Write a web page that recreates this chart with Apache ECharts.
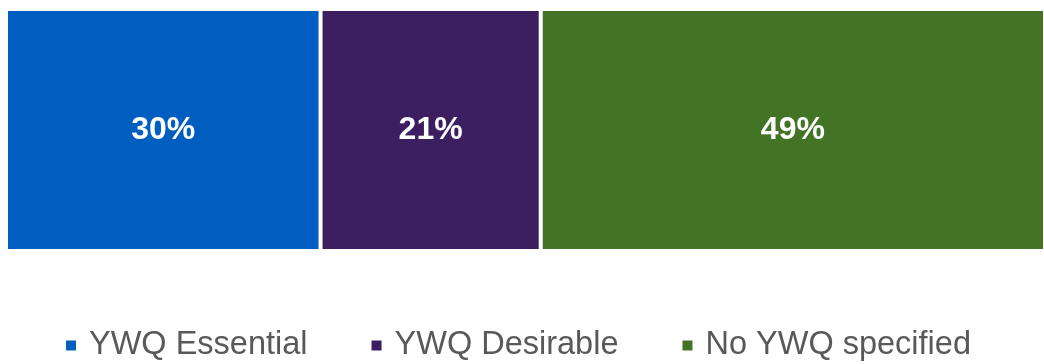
<!DOCTYPE html>
<html><head><meta charset="utf-8">
<script src="https://cdn.jsdelivr.net/npm/echarts@6/dist/echarts.min.js"></script>
<style>html,body{margin:0;padding:0;background:#fff}#c{width:1044px;height:364px}</style>
</head><body><div id="c"></div>
<script>
const categories = ['All'];
const seriesNames = ['YWQ Essential', 'YWQ Desirable', 'No YWQ specified'];
const seriesValues = [[30], [21], [49]];
const colors = ['#005EC0', '#3C1F61', '#437426'];

const chart = echarts.init(document.getElementById('c'), null, {renderer: 'canvas'});
chart.setOption({
  animation: false,
  grid: {left: 6, right: 0, top: 9, height: 242},
  xAxis: {type: 'value', min: 0, max: 99, show: false},
  yAxis: {type: 'category', data: categories, show: false},
  legend: {
    top: 329, left: 64, padding: 0,
    itemWidth: 12, itemHeight: 12, itemGap: 62,
    icon: 'rect',
    textStyle: {fontFamily: 'Liberation Sans, Arial, sans-serif', fontSize: 32.5, color: '#595959', padding: [0, 0, 0, 7]},
    data: seriesNames
  },
  series: seriesNames.map((n, i) => ({
    name: n, type: 'bar', stack: 'total', barWidth: '100%',
    data: seriesValues[i],
    itemStyle: {color: colors[i], borderColor: '#fff', borderWidth: 2},
    label: {show: true, position: 'inside', formatter: '{c}%', color: '#fff', fontWeight: 'bold', fontSize: 32, fontFamily: 'Liberation Sans, Arial, sans-serif'}
  }))
});
</script></body></html>
